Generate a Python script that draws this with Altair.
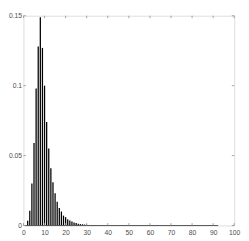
import altair as alt
import pandas as pd

# bar positions and heights (probability mass)
xs = list(range(1, 41))
ps = [0.0003, 0.0035, 0.0105, 0.030, 0.059, 0.098, 0.128, 0.149, 0.127, 0.100,
      0.074, 0.055, 0.041, 0.031, 0.023, 0.017, 0.0125, 0.010, 0.0071, 0.0060,
      0.0045, 0.0036, 0.0028, 0.0021, 0.0018, 0.0012, 0.0010, 0.0009, 0.0007, 0.0005,
      0.0004, 0.0003, 0.0003, 0.0002, 0.0002, 0.0001, 0.0001, 0.0001, 0.0001, 0.0001]

x_ticks = [0, 10, 20, 30, 40, 50, 60, 70, 80, 90, 100]
y_ticks = [0, 0.05, 0.1, 0.15]
y_tick_labels = ["0", "0.05", "0.1", "0.15"]
baseline_extent = [0.6, 92.4]

W, H = 218, 217
TL = 2.5
AX = "#8c8c8c"
FONT = "Liberation Sans"

bars_df = pd.DataFrame({"x": xs, "p": ps})
xt_df = pd.DataFrame({"t": x_ticks})
yt_df = pd.DataFrame({"t": y_ticks})
base_df = pd.DataFrame({"a": [baseline_extent[0]], "b": [baseline_extent[1]], "z": [0.0]})

xscale = alt.Scale(domain=[0, 100], nice=False, zero=False)
yscale = alt.Scale(domain=[0, 0.15], nice=False, zero=False)

ylab_expr = ("datum.value < 0.01 ? '%s' : datum.value < 0.07 ? '%s' : "
             "datum.value < 0.12 ? '%s' : '%s'") % tuple(y_tick_labels)

xaxis = alt.Axis(values=x_ticks, ticks=False, domain=False, grid=False, labelPadding=3,
                 labelFontSize=7, labelFont=FONT, labelColor="#4d4d4d", title=None,
                 labelOverlap=False, labelFlush=False)
yaxis = alt.Axis(values=y_ticks, ticks=False, domain=False, grid=False, labelPadding=2,
                 labelFontSize=7, labelFont=FONT, labelColor="#4d4d4d", title=None,
                 labelExpr=ylab_expr, labelOverlap=False, labelBaseline="middle")

bars = alt.Chart(bars_df).transform_calculate(
    lo="datum.x - 0.3", hi="datum.x + 0.3", z="0"
).mark_rect(color="black", strokeWidth=0).encode(
    x=alt.X("lo:Q", scale=xscale, axis=xaxis),
    x2="hi:Q",
    y=alt.Y("p:Q", scale=yscale, axis=yaxis),
    y2="z:Q",
)

baseline = alt.Chart(base_df).mark_rule(color="#555555", strokeWidth=1).encode(
    x=alt.X("a:Q", scale=xscale, axis=xaxis), x2="b:Q",
    y=alt.Y("z:Q", scale=yscale, axis=yaxis)
)

xt_bottom = alt.Chart(xt_df).mark_rule(color=AX, strokeWidth=0.8).encode(
    x=alt.X("t:Q", scale=xscale, axis=xaxis), y=alt.value(H), y2=alt.value(H - TL)
)
xt_top = alt.Chart(xt_df).mark_rule(color=AX, strokeWidth=0.8).encode(
    x=alt.X("t:Q", scale=xscale, axis=xaxis), y=alt.value(0), y2=alt.value(TL)
)
yt_left = alt.Chart(yt_df).mark_rule(color=AX, strokeWidth=0.8).encode(
    y=alt.Y("t:Q", scale=yscale, axis=yaxis), x=alt.value(0), x2=alt.value(TL)
)
yt_right = alt.Chart(yt_df).mark_rule(color=AX, strokeWidth=0.8).encode(
    y=alt.Y("t:Q", scale=yscale, axis=yaxis), x=alt.value(W), x2=alt.value(W - TL)
)

chart = alt.layer(bars, baseline, xt_bottom, xt_top, yt_left, yt_right).properties(
    width=W, height=H,
    autosize=alt.AutoSizeParams(type="none"),
    padding={"left": 16, "top": 4, "right": 7, "bottom": 12},
).configure_view(stroke=AX, strokeWidth=1).configure_axis(
    labelOverlap=False
).configure(background="white")

chart.save("out.html", embed_options={"renderer": "svg", "actions": False})
